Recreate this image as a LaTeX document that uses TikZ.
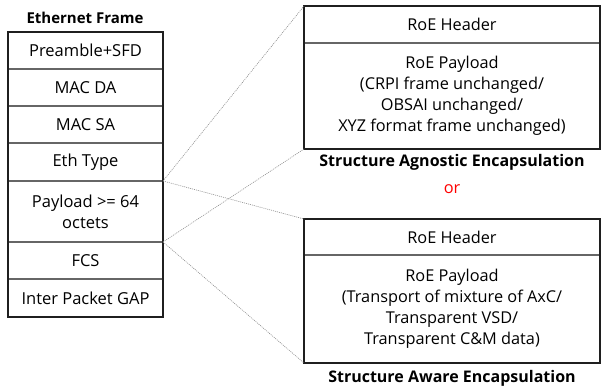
\documentclass[tikz,border=0pt]{standalone}
\usepackage{fontspec}
\setmainfont{Open Sans}
\begin{document}
\begin{tikzpicture}[x=1pt,y=-1pt,
  cell/.style={anchor=north west,inner sep=0pt,outer sep=0pt,align=center},
  fieldtext/.style={font=\fontsize{16.5}{21}\selectfont},
  encaptext/.style={font=\fontsize{16.3}{21}\selectfont},
  divider/.style={draw=black!60,line width=1.3pt},
  border/.style={draw=black!88,line width=1.2pt},
  zoomline/.style={draw=black!45,line width=0.6pt,dash pattern=on 1pt off 1pt},
  caption/.style={font=\bfseries\fontsize{16}{18}\selectfont}]
\useasboundingbox (0,0) rectangle (601,390);

% Ethernet frame fields
\node[caption,font=\bfseries\fontsize{15}{18}\selectfont] (title) at (85,18) {Ethernet Frame};
\node[cell,fieldtext,minimum width=155pt,minimum height=37pt] (pre) at (8,32) {Preamble+SFD};
\node[cell,fieldtext,minimum width=155pt,minimum height=37pt] (da) at (8,69) {MAC DA};
\node[cell,fieldtext,minimum width=155pt,minimum height=37pt] (sa) at (8,106) {MAC SA};
\node[cell,fieldtext,minimum width=155pt,minimum height=38pt] (type) at (8,143) {Eth Type};
\node[cell,fieldtext,minimum width=155pt,minimum height=61pt] (pay) at (8,181) {Payload >= 64\\octets};
\node[cell,fieldtext,minimum width=155pt,minimum height=37pt] (fcs) at (8,242) {FCS};
\node[cell,fieldtext,minimum width=155pt,minimum height=38pt] (gap) at (8,279) {Inter Packet GAP};
\foreach \n in {pre,da,sa,type,pay,fcs}
  \draw[divider] (\n.south west) -- (\n.south east);
\draw[border] (pre.north west) rectangle (gap.south east);

% Structure agnostic encapsulation
\node[cell,encaptext,minimum width=296pt,minimum height=37pt] (ahdr) at (304,6) {RoE Header};
\node[cell,encaptext,minimum width=296pt,minimum height=106pt] (apay) at (304,43)
  {RoE Payload\\(CRPI frame unchanged/\\OBSAI unchanged/\\XYZ format frame unchanged)};
\draw[divider] (ahdr.south west) -- (ahdr.south east);
\draw[border] (ahdr.north west) rectangle (apay.south east);
\node[caption] (acap) at (452,162) {Structure Agnostic Encapsulation};

\node[encaptext,text=red] (or) at (452,189) {or};

% Structure aware encapsulation
\node[cell,encaptext,minimum width=296pt,minimum height=36pt] (whdr) at (304,219) {RoE Header};
\node[cell,encaptext,minimum width=296pt,minimum height=108pt] (wpay) at (304,255)
  {RoE Payload\\(Transport of mixture of AxC/\\Transparent VSD/\\Transparent C\&M data)};
\draw[divider] (whdr.south west) -- (whdr.south east);
\draw[border] (whdr.north west) rectangle (wpay.south east);
\node[caption] (wcap) at (452,378) {Structure Aware Encapsulation};

% zoom lines from the payload field to each encapsulation
\draw[zoomline] (pay.north east) -- (ahdr.north west);
\draw[zoomline] (pay.south east) -- (apay.south west);
\draw[zoomline] (pay.north east) -- (whdr.north west);
\draw[zoomline] (pay.south east) -- (wpay.south west);
\end{tikzpicture}
\end{document}
